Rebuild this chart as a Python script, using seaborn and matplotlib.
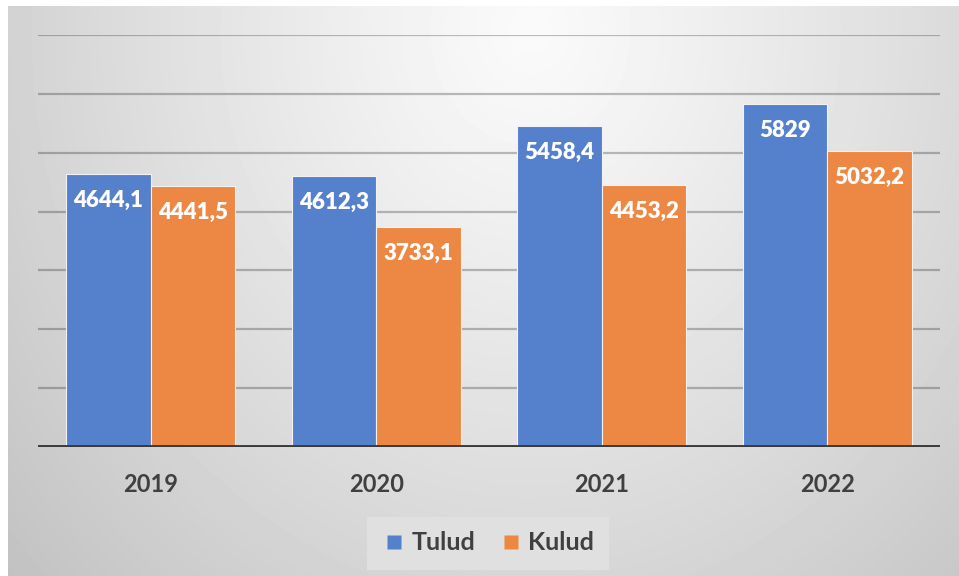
import numpy as np
import pandas as pd
import matplotlib.pyplot as plt
import seaborn as sns
from matplotlib.lines import Line2D

years = ["2019", "2020", "2021", "2022"]
tulud = [4644.1, 4612.3, 5458.4, 5829]
kulud = [4441.5, 3733.1, 4453.2, 5032.2]
series_names = ["Tulud", "Kulud"]
colors = ["#5580CC", "#EC8844"]

df = pd.DataFrame({
    "year": years * 2,
    "value": tulud + kulud,
    "series": [series_names[0]] * len(years) + [series_names[1]] * len(years),
})

sns.set_theme(style="white")
plt.rcParams["font.family"] = ["Lato", "DejaVu Sans"]

W, H = 959, 576
fig = plt.figure(figsize=(W / 100, H / 100), dpi=100)
fig.patch.set_facecolor("white")

# radial-ish gradient background like the Excel chart area
bg = fig.add_axes([8 / W, 0, 1 - 8 / W, 570 / H], zorder=-1)
xx, yy = np.meshgrid(np.arange(8, W), np.arange(6, H))
r = np.sqrt(((xx - 530) / 745) ** 2 + ((yy - 30) / 857) ** 2)
shade = np.clip(250 - 60 * r ** 1.15, 0, 255) / 255
bg.imshow(shade, cmap="gray", vmin=0, vmax=1, aspect="auto", interpolation="bilinear")
bg.axis("off")

ax = fig.add_axes([38 / W, (H - 447) / H, (940 - 38) / W, (447 - 35) / H])
ax.set_facecolor("none")

sns.barplot(data=df, x="year", y="value", hue="series", palette=colors,
            width=0.75, edgecolor="#f2f2f2", linewidth=0.8, saturation=1,
            ax=ax, zorder=3)

ax.set_ylim(0, 7000)
ax.set_yticks(range(0, 7001, 1000))
ax.yaxis.grid(True, color="black", alpha=0.25, linewidth=1.6)
ax.set_axisbelow(True)
ax.set_yticklabels([])
ax.tick_params(axis="y", length=0)
ax.tick_params(axis="x", length=0, pad=19, labelsize=17, labelcolor="#404040")
for t in ax.get_xticklabels():
    t.set_fontweight("bold")
ax.set_xlabel("")
ax.set_ylabel("")
for s in ax.spines.values():
    s.set_visible(False)
ax.axhline(0, color="#3a3a3a", linewidth=2.8, zorder=4)

for p in ax.patches:
    h = p.get_height()
    if h <= 0:
        continue
    txt = f"{h:g}".replace(".", ",")
    ax.annotate(txt, (p.get_x() + p.get_width() / 2, h), xytext=(0, -19),
                textcoords="offset points", ha="center", va="center",
                color="white", fontsize=16, fontweight="heavy", zorder=5)

ax.get_legend().remove()
handles = [Line2D([], [], marker="s", linestyle="none", markersize=10,
                  markerfacecolor=c, markeredgecolor="none") for c in colors]
leg = fig.legend(handles, series_names, loc="center", bbox_to_anchor=(488 / W, 33 / H),
                 ncol=2, frameon=True, facecolor="#e0e0e0", edgecolor="none",
                 framealpha=1, fancybox=False, handletextpad=0.2, columnspacing=0.9,
                 borderpad=0.6, handlelength=1.0,
                 prop={"size": 18, "weight": "bold"})
for t in leg.get_texts():
    t.set_color("#404040")

fig.savefig("out.png", dpi=100)
